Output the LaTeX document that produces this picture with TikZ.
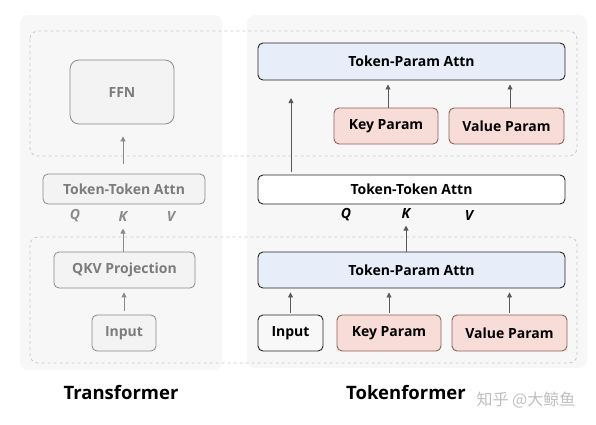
\documentclass[tikz,border=0pt]{standalone}
\usepackage{fontspec}
\setmainfont{Open Sans}
\newfontfamily\cjkfont{Noto Sans CJK SC}
\usepackage{tikz}
\usetikzlibrary{arrows.meta,positioning,calc}
\usepackage{xcolor}
\definecolor{panelgray}{HTML}{F7F7F7}
\definecolor{dashgray}{HTML}{C8C8C8}
\definecolor{fadegray}{HTML}{8A8A8A}
\definecolor{fadefill}{HTML}{F3F3F3}
\definecolor{paramblue}{HTML}{E7EEF9}
\definecolor{parampink}{HTML}{F8DCD8}
\definecolor{pinkline}{HTML}{8C5E5A}

\begin{document}
\begin{tikzpicture}[x=1pt, y=-1pt, font=\fontsize{14}{16}\selectfont\bfseries,
    fadebox/.style={draw=fadegray, fill=fadefill, text=fadegray!90!black, rounded corners=5pt, line width=0.8pt, inner sep=0pt},
    darkbox/.style={draw=black!85, fill=white, text=black, rounded corners=5pt, line width=0.9pt, inner sep=0pt},
    bluebox/.style={darkbox, fill=paramblue},
    pinkbox/.style={darkbox, draw=pinkline, fill=parampink},
    fadearr/.style={-{Triangle[width=5pt,length=5pt]}, draw=fadegray, line width=0.9pt},
    darkarr/.style={-{Triangle[width=5pt,length=5pt]}, draw=black!65, line width=0.9pt},
    qkv/.style={font=\fontsize{14}{16}\selectfont\bfseries\itshape}]
    \useasboundingbox (0,0) rectangle (596,424);
    % panels
    \fill[panelgray, rounded corners=8pt] (20,15) rectangle (222,370);
    \fill[panelgray, rounded corners=8pt] (247,15) rectangle (587,368);
    % dashed groups
    \draw[dashgray, dashed, line width=0.8pt, rounded corners=8pt] (30,31) rectangle (577,156);
    \draw[dashgray, dashed, line width=0.8pt, rounded corners=8pt] (30,237) rectangle (577,363);

    % Transformer
    \node[fadebox, minimum width=104pt, minimum height=64pt, rounded corners=9pt] (ffn) at (122,92) {FFN};
    \node[fadebox, minimum width=162pt, minimum height=30pt] (lTT) at (124,189) {Token-Token Attn};
    \node[qkv, text=fadegray] (lQ) at (75,216) {Q};
    \node[qkv, text=fadegray] (lK) at (123,216) {K};
    \node[qkv, text=fadegray] (lV) at (171,216) {V};
    \node[fadebox, minimum width=141pt, minimum height=36pt] (proj) at (124.5,270) {QKV Projection};
    \node[fadebox, minimum width=64pt, minimum height=36pt] (lIn) at (124,333) {Input};
    \draw[fadearr, shorten <=10pt, shorten >=12pt] (lTT.north -| lK) -- (ffn.south -| lK);
    \draw[fadearr, shorten >=4pt] (proj.north -| lK) -- (lK.south);
    \draw[fadearr, shorten <=4pt, shorten >=4pt] (lIn.north) -- (proj.south -| lIn);

    % Tokenformer
    \node[bluebox, minimum width=307pt, minimum height=37pt] (tTPA) at (411.5,61.5) {Token-Param Attn};
    \node[pinkbox, minimum width=104pt, minimum height=36pt] (tKey) at (386,126) {Key Param};
    \node[pinkbox, minimum width=115pt, minimum height=36pt] (tVal) at (506.5,126) {Value Param};
    \node[darkbox, minimum width=307pt, minimum height=29pt] (rTT) at (411.5,189.5) {Token-Token Attn};
    \node[qkv] (rQ) at (346,215) {Q};
    \node[qkv] (rK) at (406,213) {K};
    \node[qkv] (rV) at (469,215) {V};
    \node[bluebox, minimum width=307pt, minimum height=36pt] (bTPA) at (411.5,270) {Token-Param Attn};
    \node[darkbox, fill=fadefill!60!white, minimum width=65pt, minimum height=36pt] (rIn) at (290.5,333) {Input};
    \node[pinkbox, minimum width=104pt, minimum height=36pt] (bKey) at (389,333) {Key Param};
    \node[pinkbox, minimum width=115pt, minimum height=36pt] (bVal) at (509.5,333) {Value Param};
    \coordinate (skip) at (291,98);
    \draw[darkarr, shorten <=3pt] (rTT.north -| skip) -- (skip);
    \draw[darkarr, shorten >=4pt] ([xshift=2pt]tKey.north) -- ([xshift=2pt]tTPA.south -| tKey);
    \draw[darkarr, shorten >=4pt] ([xshift=3.5pt]tVal.north) -- ([xshift=3.5pt]tTPA.south -| tVal);
    \draw[darkarr, shorten >=4pt] (bTPA.north -| rK) -- (rK.south);
    \draw[darkarr, shorten <=2pt, shorten >=4pt] (rIn.north) -- (bTPA.south -| rIn);
    \draw[darkarr, shorten <=2pt, shorten >=4pt] (bKey.north) -- (bTPA.south -| bKey);
    \draw[darkarr, shorten <=2pt, shorten >=4pt] (bVal.north) -- (bTPA.south -| bVal);

    % titles
    \node[font=\fontsize{18.5}{22}\selectfont\bfseries] (tfTitle) at (121,393) {Transformer};
    \node[font=\fontsize{18.5}{22}\selectfont\bfseries] (tkTitle) at (406,393) {Tokenformer};
    \node[font=\fontsize{16}{19}\selectfont\cjkfont, text=black!25] (mark) at (526,400) {知乎 @大鲸鱼};
\end{tikzpicture}
\end{document}
